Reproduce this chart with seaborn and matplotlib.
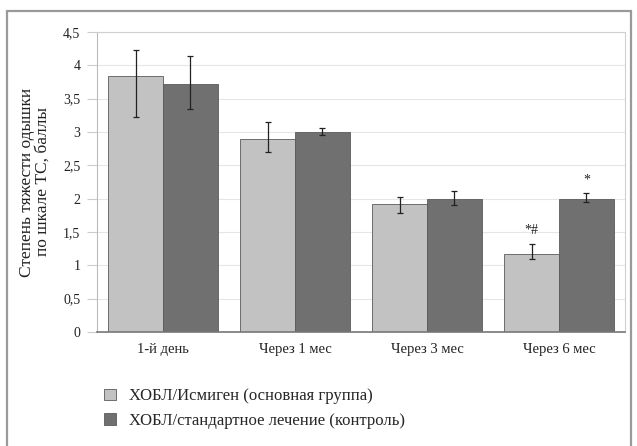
import matplotlib
matplotlib.use("Agg")
import matplotlib.pyplot as plt
import seaborn as sns
import pandas as pd
from matplotlib.patches import Rectangle

periods = ["1-й день", "Через 1 мес", "Через 3 мес", "Через 6 мес"]
groups = ["ХОБЛ/Исмиген (основная группа)", "ХОБЛ/стандартное лечение (контроль)"]

main_vals = [3.84, 2.90, 1.92, 1.17]
main_hi = [4.23, 3.15, 2.02, 1.32]
main_lo = [3.22, 2.70, 1.78, 1.09]

ctrl_vals = [3.72, 3.00, 2.00, 2.00]
ctrl_hi = [4.14, 3.06, 2.12, 2.08]
ctrl_lo = [3.34, 2.96, 1.90, 1.95]

marks_main = ["", "", "", "*#"]
marks_ctrl = ["", "", "", "*"]

df = pd.DataFrame({
    "period": periods * 2,
    "group": [groups[0]] * 4 + [groups[1]] * 4,
    "value": main_vals + ctrl_vals,
})

sns.set_style("white")
plt.rcParams["font.family"] = ["Liberation Serif", "DejaVu Serif"]

fig = plt.figure(figsize=(6.37, 4.46), dpi=100)
fig.patches.append(Rectangle((7 / 637, -0.05), 624 / 637, 1.0 - 11 / 446 + 0.05,
                             transform=fig.transFigure, fill=False,
                             edgecolor="#9a9a9a", linewidth=1.6))
ax = fig.add_axes([97 / 637, (446 - 332) / 446, 528 / 637, 300 / 446])

sns.barplot(data=df, x="period", y="value", hue="group", order=periods,
            hue_order=groups, palette=["#c2c2c2", "#707070"], width=0.83,
            edgecolor="#5a5a5a", linewidth=0.6, errorbar=None, ax=ax, zorder=2)

bars = ax.patches
sets = [(main_vals, main_hi, main_lo, marks_main),
        (ctrl_vals, ctrl_hi, ctrl_lo, marks_ctrl)]
for gi, (vals, hi, lo, marks) in enumerate(sets):
    for i in range(4):
        b = bars[gi * 4 + i]
        xc = b.get_x() + b.get_width() / 2
        ax.errorbar(xc, vals[i], yerr=[[vals[i] - lo[i]], [hi[i] - vals[i]]],
                    fmt="none", ecolor="#222222", elinewidth=0.9, capsize=2.5,
                    capthick=0.9, zorder=3)
        if marks[i]:
            ax.text(xc, hi[i] + 0.1, marks[i], ha="center", va="bottom",
                    fontsize=10, color="#222222")

ax.set_xlim(-0.5, 3.5)
ax.set_ylim(0, 4.5)
ax.set_yticks([0, 0.5, 1, 1.5, 2, 2.5, 3, 3.5, 4, 4.5])
ax.set_yticklabels(["0", "0,5", "1", "1,5", "2", "2,5", "3", "3,5", "4", "4,5"])
ax.yaxis.grid(True, color="#e6e6e6", linewidth=0.8, zorder=0)
ax.set_axisbelow(True)
ax.tick_params(axis="both", labelsize=10, colors="#222222")
ax.tick_params(axis="x", length=0, pad=8, labelsize=10.5)
ax.tick_params(axis="y", left=True, length=7, width=0.8, color="#cccccc", pad=5)
ax.set_xlabel("")
ax.set_ylabel("Степень тяжести одышки\nпо шкале ТС, баллы", fontsize=12.5,
              color="#222222", labelpad=9, linespacing=1.0)
for s in ["top", "right"]:
    ax.spines[s].set_color("#d0d0d0")
ax.spines["left"].set_color("#bbbbbb")
ax.spines["bottom"].set_color("#777777")
ax.spines["bottom"].set_linewidth(1.2)

handles, labels = ax.get_legend_handles_labels()
ax.get_legend().remove()
fig.legend(handles, labels, loc="upper left", bbox_to_anchor=(96 / 637, 1 - 380 / 446),
           frameon=False, fontsize=12, handlelength=0.7, handleheight=0.7,
           labelspacing=0.5, handletextpad=0.8, borderpad=0)

fig.savefig("out.png", dpi=100)
